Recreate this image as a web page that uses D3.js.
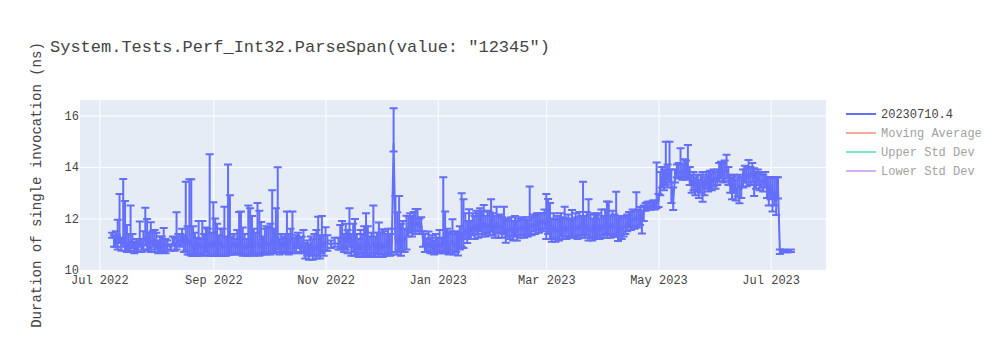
<!DOCTYPE html>
<html><head><meta charset="utf-8">
<script src="https://cdn.jsdelivr.net/npm/d3@7"></script>
<style>
body{margin:0;background:#fff}
svg{display:block}
text{font-family:"Liberation Mono","Courier New",monospace;fill:#444}
</style>
</head><body>
<svg id="chart" width="1000" height="350"></svg>
<script>
const title = 'System.Tests.Perf_Int32.ParseSpan(value: "12345")';
const yTitle = "Duration of single invocation (ns)";
const seriesName = "20230710.4";
const legendNames = ["20230710.4", "Moving Average", "Upper Std Dev", "Lower Std Dev"];
const legendColors = ["#636efa", "#EF553B", "#00cc96", "#ab63fa"];
const legendVisible = [true, false, false, false];
const xTickDates = ["2022-07-01","2022-09-01","2022-11-01","2023-01-01","2023-03-01","2023-05-01","2023-07-01"];
const yTicks = [10, 12, 14, 16];

const dates = [
"2022-07-08","2022-07-09","2022-07-10","2022-07-11","2022-07-12","2022-07-13","2022-07-14","2022-07-15","2022-07-16","2022-07-17","2022-07-18","2022-07-19","2022-07-20","2022-07-21","2022-07-22","2022-07-23","2022-07-24","2022-07-25","2022-07-26","2022-07-27","2022-07-28","2022-07-29","2022-07-30","2022-07-31",
"2022-08-01","2022-08-02","2022-08-03","2022-08-04","2022-08-05","2022-08-06","2022-08-07","2022-08-09","2022-08-10","2022-08-11","2022-08-12","2022-08-13","2022-08-14","2022-08-15","2022-08-16","2022-08-17","2022-08-18","2022-08-19","2022-08-20","2022-08-21","2022-08-22","2022-08-23","2022-08-24","2022-08-25","2022-08-26","2022-08-27","2022-08-28","2022-08-29","2022-08-30","2022-08-31",
"2022-09-01","2022-09-02","2022-09-03","2022-09-04","2022-09-05","2022-09-06","2022-09-07","2022-09-08","2022-09-09","2022-09-10","2022-09-11","2022-09-12","2022-09-13","2022-09-14","2022-09-15","2022-09-16","2022-09-17","2022-09-18","2022-09-19","2022-09-20","2022-09-21","2022-09-22","2022-09-23","2022-09-24","2022-09-25","2022-09-26","2022-09-27","2022-09-28","2022-09-29","2022-09-30",
"2022-10-01","2022-10-02","2022-10-03","2022-10-04","2022-10-05","2022-10-06","2022-10-07","2022-10-08","2022-10-09","2022-10-10","2022-10-11","2022-10-12","2022-10-13","2022-10-14","2022-10-15","2022-10-16","2022-10-17","2022-10-18","2022-10-19","2022-10-20","2022-10-21","2022-10-22","2022-10-23","2022-10-24","2022-10-25","2022-10-26","2022-10-27","2022-10-28","2022-10-29","2022-10-30","2022-10-31",
"2022-11-01","2022-11-02","2022-11-04","2022-11-06","2022-11-08","2022-11-09","2022-11-10","2022-11-11","2022-11-12","2022-11-13","2022-11-14","2022-11-15","2022-11-16","2022-11-17","2022-11-18","2022-11-19","2022-11-20","2022-11-21","2022-11-22","2022-11-23","2022-11-24","2022-11-25","2022-11-26","2022-11-27","2022-11-28","2022-11-29","2022-11-30",
"2022-12-01","2022-12-02","2022-12-03","2022-12-04","2022-12-05","2022-12-06","2022-12-07","2022-12-08","2022-12-09","2022-12-10","2022-12-11","2022-12-12","2022-12-13","2022-12-14","2022-12-15","2022-12-16","2022-12-17","2022-12-18","2022-12-19","2022-12-20","2022-12-21","2022-12-22","2022-12-23","2022-12-24","2022-12-25","2022-12-26","2022-12-27","2022-12-28","2022-12-29","2022-12-30","2022-12-31",
"2023-01-01","2023-01-02","2023-01-03","2023-01-04","2023-01-05","2023-01-06","2023-01-07","2023-01-08","2023-01-09","2023-01-10","2023-01-11","2023-01-12","2023-01-13","2023-01-14","2023-01-15","2023-01-16","2023-01-17","2023-01-18","2023-01-19","2023-01-20","2023-01-21","2023-01-22","2023-01-23","2023-01-24","2023-01-25","2023-01-26","2023-01-27","2023-01-28","2023-01-29","2023-01-30","2023-01-31",
"2023-02-01","2023-02-02","2023-02-03","2023-02-04","2023-02-05","2023-02-06","2023-02-07","2023-02-08","2023-02-09","2023-02-10","2023-02-11","2023-02-12","2023-02-13","2023-02-14","2023-02-15","2023-02-16","2023-02-17","2023-02-18","2023-02-19","2023-02-20","2023-02-21","2023-02-22","2023-02-23","2023-02-24","2023-02-25","2023-02-26","2023-02-27","2023-02-28",
"2023-03-01","2023-03-02","2023-03-03","2023-03-04","2023-03-05","2023-03-06","2023-03-07","2023-03-08","2023-03-09","2023-03-10","2023-03-11","2023-03-12","2023-03-13","2023-03-14","2023-03-15","2023-03-16","2023-03-17","2023-03-18","2023-03-19","2023-03-20","2023-03-21","2023-03-22","2023-03-23","2023-03-24","2023-03-25","2023-03-26","2023-03-27","2023-03-28","2023-03-29","2023-03-30","2023-03-31",
"2023-04-01","2023-04-02","2023-04-03","2023-04-04","2023-04-05","2023-04-06","2023-04-07","2023-04-08","2023-04-09","2023-04-10","2023-04-11","2023-04-12","2023-04-13","2023-04-14","2023-04-15","2023-04-16","2023-04-17","2023-04-18","2023-04-19","2023-04-20","2023-04-21","2023-04-22","2023-04-23","2023-04-24","2023-04-25","2023-04-26","2023-04-27","2023-04-28","2023-04-29","2023-04-30",
"2023-05-01","2023-05-02","2023-05-03","2023-05-04","2023-05-05","2023-05-06","2023-05-07","2023-05-08","2023-05-09","2023-05-10","2023-05-11","2023-05-12","2023-05-13","2023-05-14","2023-05-15","2023-05-16","2023-05-17","2023-05-18","2023-05-19","2023-05-20","2023-05-21","2023-05-22","2023-05-23","2023-05-24","2023-05-25","2023-05-26","2023-05-27","2023-05-28","2023-05-29","2023-05-30","2023-05-31",
"2023-06-01","2023-06-02","2023-06-03","2023-06-04","2023-06-05","2023-06-06","2023-06-07","2023-06-08","2023-06-09","2023-06-10","2023-06-11","2023-06-12","2023-06-13","2023-06-14","2023-06-15","2023-06-16","2023-06-17","2023-06-18","2023-06-19","2023-06-20","2023-06-21","2023-06-22","2023-06-23","2023-06-24","2023-06-25","2023-06-26","2023-06-27","2023-06-28","2023-06-29","2023-06-30",
"2023-07-01","2023-07-02","2023-07-03","2023-07-04","2023-07-05","2023-07-06","2023-07-08","2023-07-10","2023-07-12"
];

const values = [
11.35,11.2,11.3,11.05,11.4,10.95,11.3,11.0,10.85,11.1,10.9,11.15,10.8,11.0,10.85,11.2,10.9,11.1,11.3,10.95,11.15,10.9,11.2,10.95,
11.1,10.85,11.05,10.9,11.05,10.9,11.0,10.85,11.1,10.95,11.05,11.15,11.1,11.25,11.0,11.3,10.95,11.2,11.0,10.85,11.05,10.8,11.1,10.85,11.0,10.9,11.2,10.9,11.1,10.85,
11.15,10.9,11.0,10.95,11.1,10.85,11.0,10.9,11.2,11.0,10.9,11.1,10.85,11.05,10.9,11.15,10.85,11.0,10.8,11.1,10.9,11.2,10.9,11.0,11.1,10.85,11.0,10.9,11.1,10.95,
11.05,10.9,11.2,11.0,11.15,11.3,10.85,11.1,10.9,11.05,11.3,10.9,11.2,11.1,10.85,11.0,11.15,11.0,10.9,10.95,10.7,10.85,10.65,10.9,10.7,10.95,10.75,11.0,10.8,11.05,10.9,
11.1,11.05,11.0,11.05,11.0,11.15,11.3,11.0,11.3,11.05,11.4,10.9,11.2,10.85,11.0,10.75,11.05,10.8,11.0,10.9,11.1,10.8,10.95,11.1,10.8,11.0,10.85,
11.05,10.8,11.0,10.9,11.1,10.85,11.0,14.9,11.2,11.0,11.3,10.9,11.2,11.1,11.3,11.6,11.8,11.6,11.85,11.7,11.9,11.7,11.8,11.2,11.0,10.9,11.1,10.85,11.05,10.8,11.0,
10.9,11.05,10.85,11.2,11.0,11.1,10.85,11.0,11.15,10.9,11.0,10.95,11.2,11.4,11.3,11.6,11.4,11.6,11.5,11.7,11.5,11.8,11.6,11.9,11.7,11.85,11.6,11.8,11.65,11.9,11.7,
11.6,11.85,11.6,11.75,11.55,11.7,11.45,11.6,11.5,11.65,11.45,11.6,11.5,11.65,11.55,11.7,11.55,11.65,11.6,11.75,11.65,11.8,11.7,11.85,11.75,11.9,11.8,11.95,
11.7,11.9,11.6,11.5,11.7,11.45,11.6,11.5,11.7,11.55,11.7,11.5,11.65,11.55,11.7,11.6,11.7,11.55,11.75,11.6,11.8,11.6,11.75,11.5,11.65,11.5,11.7,11.55,11.7,11.5,11.75,
11.6,11.8,11.6,11.75,11.6,11.8,11.65,11.7,11.5,11.7,11.55,11.65,11.7,11.8,11.95,11.85,12.0,11.9,12.05,11.95,12.1,11.9,12.2,12.45,12.5,12.45,12.5,12.55,12.5,12.6,
12.65,13.3,13.6,13.4,13.8,13.5,13.9,13.4,12.7,13.6,13.8,13.75,13.85,13.7,13.9,13.75,13.85,13.6,13.3,13.5,13.2,13.4,13.1,13.3,13.45,13.2,13.5,13.35,13.55,13.4,13.6,
13.45,13.6,13.75,13.9,13.7,13.85,13.9,13.6,13.3,13.1,13.3,13.0,13.2,13.3,13.1,13.5,13.7,13.55,13.75,13.6,13.8,13.55,13.45,13.6,13.4,13.5,13.35,13.5,13.2,13.0,
13.3,12.8,13.1,12.7,13.2,10.75,10.75,10.73,10.75
];

const errPlus = [
.1,.15,.2,.9,1.55,.3,2.23,1.68,.9,.3,1.6,.25,.3,.2,.35,.68,.3,.4,1.12,1.03,.3,.95,.3,.6,
.35,.3,.25,.4,.58,.3,.15,.15,.2,.3,1.19,.25,.3,.35,.35,2.13,.75,2.32,2.52,.85,.4,.45,.8,.35,.9,.5,.45,.7,3.39,.6,
1.48,1.1,.8,.4,.5,.75,1.46,.4,2.9,1.9,.4,.3,.35,.5,1.35,1.12,.8,.4,.4,1.4,1.5,.9,.7,.45,1.5,1.45,.86,.4,.5,.75,
.6,.9,1.9,.6,1.25,2.69,.35,.3,.4,.35,.97,.5,.4,1.17,.4,.35,.3,.25,.39,.6,.35,.3,.35,.4,.5,.45,.8,1.07,.55,1.05,.45,
.56,.3,.15,.2,.25,.6,.6,.4,.5,.5,1.0,.5,.6,1.13,.4,.45,.5,.6,.7,1.3,.6,.5,.5,1.4,.5,.45,.99,
.4,.78,.5,.5,.5,.55,.6,1.38,1.67,1.24,1.57,.9,.7,.5,.81,.5,.4,.5,.4,.67,.47,.3,.25,.3,.4,.3,.39,.4,.3,.35,.4,
.35,.5,.4,2.4,1.27,.5,.6,.5,.82,.5,.5,.5,.5,1.58,1.45,.6,.5,.76,.4,.5,.6,.5,.6,.5,.6,.67,.5,.5,.6,.85,.5,
.5,.61,.5,.4,.5,.76,.5,.4,.4,.4,.45,.5,.4,.35,.45,.35,.4,.4,.35,1.49,.4,.35,.4,.35,.45,.3,.4,.4,
1.25,.86,1.0,.5,.5,.5,.5,.5,.5,.5,.76,.5,.5,.4,.63,.4,.5,.5,.5,.5,1.63,.5,.5,1.25,.5,.5,.5,.6,.5,.5,.6,
.5,.55,1.06,.9,.5,.5,.5,1.34,.5,.4,.5,.4,.4,.35,.3,.4,.35,.4,.97,.4,.35,.4,.3,.15,.15,.2,.15,.15,.2,1.57,
.3,.5,.4,.5,1.18,.6,1.08,.5,.5,.3,.3,.4,.88,.4,.4,.5,1.0,.4,.4,.3,.4,.3,.4,.4,.35,.4,.3,.35,.3,.35,.3,
.35,.3,.4,.3,.45,.4,.57,.4,.4,.5,.4,.5,.4,.4,.5,.4,.35,.4,.52,.4,.35,.4,.35,.3,.35,.3,.35,.3,.4,.6,
.3,.8,.5,.9,.4,.05,.05,.05,.05
];

const errMinus = [
.1,.3,.4,.25,.35,.2,.4,.25,.15,.35,.2,.3,.15,.25,.15,.3,.2,.3,.35,.2,.35,.2,.3,.25,
.3,.2,.35,.2,.35,.25,.2,.1,.15,.2,.25,.2,.2,.25,.3,.55,.35,.6,.45,.3,.5,.25,.45,.3,.4,.35,.5,.3,.55,.3,
.6,.35,.45,.4,.55,.3,.45,.35,.6,.4,.3,.45,.25,.4,.3,.5,.3,.4,.25,.5,.35,.6,.35,.4,.45,.3,.4,.3,.45,.35,
.4,.3,.45,.35,.45,.5,.25,.4,.25,.4,.6,.3,.5,.45,.2,.3,.3,.3,.25,.3,.25,.3,.25,.3,.3,.4,.3,.45,.35,.4,.35,
.35,.3,.15,.15,.2,.35,.45,.3,.5,.4,.5,.35,.5,.3,.4,.25,.4,.3,.45,.35,.5,.3,.4,.45,.3,.4,.35,
.45,.3,.4,.35,.45,.3,.4,.3,.5,.4,.55,.35,.5,.4,.5,.3,.35,.3,.35,.3,.4,.3,.3,.3,.3,.2,.35,.2,.35,.2,.3,
.25,.3,.2,.45,.35,.4,.25,.35,.4,.3,.3,.39,.4,.5,.45,.4,.35,.4,.3,.35,.3,.4,.35,.4,.4,.45,.3,.35,.3,.4,.35,
.35,.4,.35,.3,.3,.3,.39,.3,.3,.35,.3,.3,.35,.3,.3,.35,.3,.3,.3,.35,.3,.3,.3,.3,.3,.3,.3,.35,
.5,.5,.4,.4,.45,.35,.4,.35,.4,.35,.4,.3,.35,.3,.4,.35,.4,.35,.4,.35,.45,.35,.4,.35,.4,.35,.45,.35,.4,.3,.4,
.35,.4,.35,.4,.35,.4,.35,.4,.37,.4,.35,.35,.3,.3,.3,.3,.3,.3,.35,.3,.35,.48,.3,.15,.1,.1,.15,.1,.15,.2,
.2,.4,.4,.3,.5,.3,.5,.8,.37,.2,.2,.2,.25,.2,.3,.25,.3,.3,.3,.4,.3,.35,.3,.3,.8,.3,.35,.3,.4,.3,.35,
.3,.3,.3,.35,.3,.4,.35,.3,.3,.35,.3,.3,.35,.71,.3,.3,.3,.3,.35,.3,.4,.68,.3,.3,.3,.3,.3,.3,.4,.5,
.55,.53,.6,.56,.42,.13,.05,.05,.05
];

const W = 1000, H = 350;
const plot = {left: 80, right: 826, top: 100, bottom: 270};
const parse = d3.utcParse("%Y-%m-%d");
const n = Math.min(dates.length, values.length, errPlus.length, errMinus.length);
const data = d3.range(n).map(i => ({date: parse(dates[i]), v: values[i], hi: values[i] + errPlus[i], lo: values[i] - errMinus[i]}));

const x = d3.scaleUtc()
  .domain([new Date(Date.UTC(2022, 5, 20, 12)), new Date(Date.UTC(2023, 6, 31, 2))])
  .range([plot.left, plot.right]);
const y = d3.scaleLinear().domain([10, 16.6]).range([plot.bottom, plot.top]);

const svg = d3.select("#chart");
svg.append("rect").attr("width", W).attr("height", H).attr("fill", "#fff");
svg.append("rect").attr("x", plot.left).attr("y", plot.top)
  .attr("width", plot.right - plot.left).attr("height", plot.bottom - plot.top)
  .attr("fill", "#E5ECF6");

// grid + x axis
const xAxis = svg.append("g").attr("transform", `translate(0,${plot.bottom})`)
  .call(d3.axisBottom(x).tickValues(xTickDates.map(parse)).tickFormat(d3.utcFormat("%b %Y"))
    .tickSize(-(plot.bottom - plot.top)).tickPadding(0));
xAxis.select(".domain").remove();
xAxis.selectAll(".tick line").attr("stroke", "#fff").attr("stroke-width", 1);
xAxis.selectAll(".tick text").attr("y", 14).attr("dy", 0)
  .attr("font-size", 12).attr("fill", "#444")
  .style("font-family", '"Liberation Mono","Courier New",monospace');

const yAxis = svg.append("g").attr("transform", `translate(${plot.left},0)`)
  .call(d3.axisLeft(y).tickValues(yTicks).tickFormat(d3.format("d"))
    .tickSize(-(plot.right - plot.left)).tickPadding(1));
yAxis.select(".domain").remove();
yAxis.selectAll(".tick line").attr("stroke", "#fff").attr("stroke-width", 1);
yAxis.selectAll(".tick text").attr("font-size", 12).attr("fill", "#444")
  .style("font-family", '"Liberation Mono","Courier New",monospace');

// clip
svg.append("clipPath").attr("id", "clip").append("rect")
  .attr("x", plot.left).attr("y", plot.top)
  .attr("width", plot.right - plot.left).attr("height", plot.bottom - plot.top);
const g = svg.append("g").attr("clip-path", "url(#clip)");

const color = legendColors[0];
const cw = 4;
g.append("g").selectAll("path").data(data).join("path")
  .attr("d", d => {
    const cx = x(d.date), yt = y(d.hi), yb = y(d.lo);
    return `M${cx - cw},${yt}h${2 * cw}m${-cw},0V${yb}m${-cw},0h${2 * cw}`;
  })
  .attr("fill", "none").attr("stroke", color).attr("stroke-width", 2);

g.append("path").datum(data)
  .attr("d", d3.line().x(d => x(d.date)).y(d => y(d.v)))
  .attr("fill", "none").attr("stroke", color).attr("stroke-width", 2)
  .attr("stroke-linejoin", "round");

// title
svg.append("text").attr("x", 50).attr("y", 52).attr("font-size", 17).text(title);

// y title
svg.append("text").attr("transform", "translate(41,185) rotate(-90)")
  .attr("text-anchor", "middle").attr("font-size", 14).text(yTitle);

// legend
const lg = svg.append("g");
legendNames.forEach((name, i) => {
  const item = lg.append("g").attr("transform", `translate(0,${114 + i * 19})`)
    .attr("opacity", legendVisible[i] ? 1 : 0.5);
  item.append("line").attr("x1", 846).attr("x2", 876).attr("y1", 0).attr("y2", 0)
    .attr("stroke", legendColors[i]).attr("stroke-width", 2);
  item.append("text").attr("x", 881).attr("y", 0).attr("dy", "0.32em")
    .attr("font-size", 12).text(name);
});
</script>
</body></html>
